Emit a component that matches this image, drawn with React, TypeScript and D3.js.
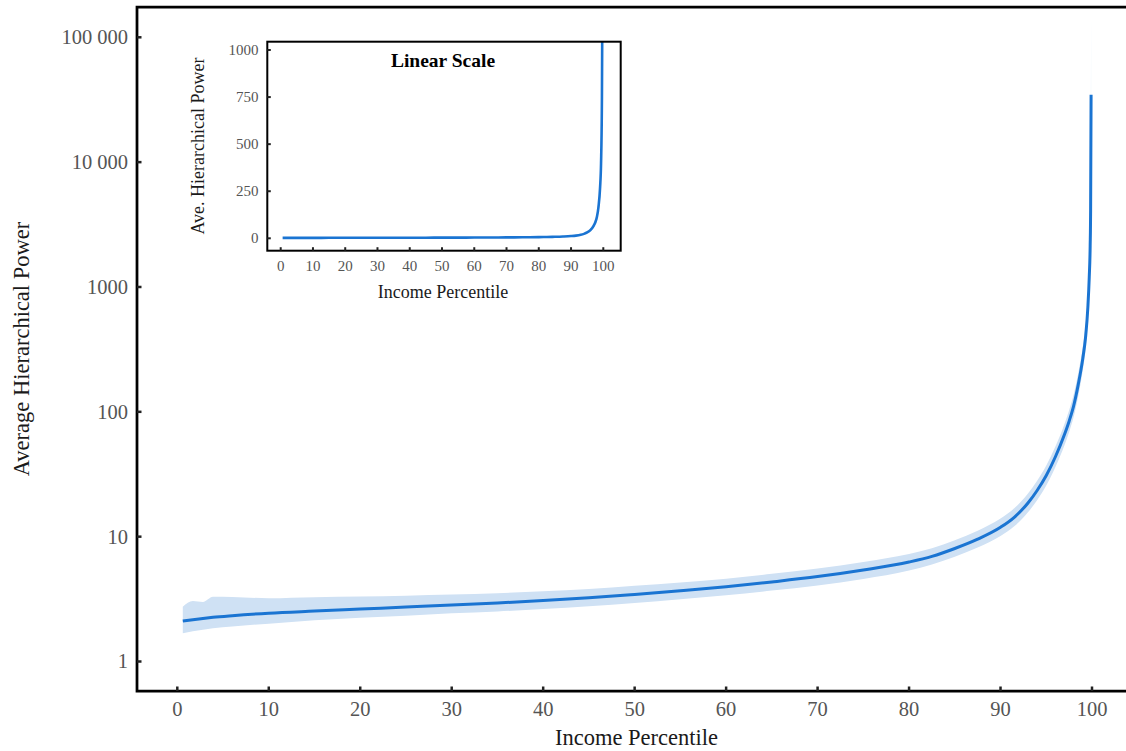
import React from "react";
import * as d3 from "d3";

const percentiles = [0.6, 1.7, 2.8, 3.9, 6, 10, 15, 20, 25, 30, 35, 40, 45, 50, 55, 60, 65, 70, 75, 80, 82.5, 85, 87.5, 90, 91.5, 93, 94, 95, 96, 97, 97.5, 98, 98.5, 99, 99.3, 99.55, 99.7, 99.8, 99.85, 99.9];
const meanPower = [2.109, 2.163, 2.213, 2.259, 2.328, 2.438, 2.535, 2.63, 2.729, 2.831, 2.944, 3.076, 3.236, 3.443, 3.681, 3.963, 4.335, 4.786, 5.408, 6.266, 6.95, 8.04, 9.55, 11.89, 14.29, 18.62, 23.44, 30.9, 43.65, 66.07, 84.14, 112.2, 166, 269.2, 398.1, 691.8, 1202, 2138, 4169, 34674];
const upperPower = [2.75, 3.05, 3.0, 3.3, 3.29, 3.21, 3.27, 3.31, 3.37, 3.44, 3.52, 3.65, 3.8, 4.04, 4.3, 4.61, 5.04, 5.56, 6.27, 7.26, 8.07, 9.35, 11.17, 13.96, 16.87, 22.13, 28.05, 37.15, 52.72, 80.35, 102.8, 138, 205, 335, 501, 881, 1549, 2818, 5754, 158000];
const lowerPower = [1.68, 1.75, 1.8, 1.85, 1.91, 2.01, 2.14, 2.24, 2.33, 2.43, 2.52, 2.63, 2.77, 2.94, 3.15, 3.39, 3.7, 4.07, 4.58, 5.35, 5.98, 6.9, 8.17, 10.12, 12.11, 15.67, 19.59, 25.7, 36.14, 54.33, 68.87, 91.2, 134, 216, 316, 543, 933, 1622, 3020, 7943];

const mainXTicks = [0, 10, 20, 30, 40, 50, 60, 70, 80, 90, 100];
const mainYTicks = [1, 10, 100, 1000, 10000, 100000];
const mainYTickLabels = ["1", "10", "100", "1000", "10 000", "100 000"];
const insetXTicks = [0, 10, 20, 30, 40, 50, 60, 70, 80, 90, 100];
const insetYTicks = [0, 250, 500, 750, 1000];

const W = 1126;
const H = 751;
const LINE = "#1a74d2";
const BAND = "#cfe1f4";
const TICKTXT = "#555";
const TITLE = "#1a1a1a";
const FONT = "'Liberation Serif', 'Times New Roman', serif";

type Row = { p: number; m: number; lo: number; hi: number };
const rows: Row[] = percentiles.map((p, i) => ({ p, m: meanPower[i], lo: lowerPower[i], hi: upperPower[i] }));

export default function App() {
  const left = 137, top = 7, bottom = 691, right = 1130;
  const x = d3.scaleLinear().domain([0, 100]).range([177.3, 1092]);
  const y = d3.scaleLog().domain([1, 100000]).range([661.5, 37.3]);

  const line = d3.line<Row>().x(d => x(d.p)).y(d => y(d.m)).curve(d3.curveMonotoneX);
  const area = d3.area<Row>().x(d => x(d.p)).y0(d => y(d.lo)).y1(d => y(d.hi)).curve(d3.curveMonotoneX);

  const iL = 267.3, iR = 620.7, iT = 41.7, iB = 250.7;
  const ix = d3.scaleLinear().domain([0, 100]).range([280.7, 603.3]);
  const iy = d3.scaleLinear().domain([0, 1000]).range([238.3, 50]);
  const iline = d3.line<Row>().x(d => ix(d.p)).y(d => iy(d.m)).curve(d3.curveMonotoneX);
  const iarea = d3.area<Row>().x(d => ix(d.p)).y0(d => iy(d.lo)).y1(d => iy(d.hi)).curve(d3.curveMonotoneX);

  return (
    <div style={{ position: "fixed", left: 0, top: 0, width: W, height: H, background: "#fff" }}>
      <svg width={W} height={H} style={{ display: "block", fontFamily: FONT }}>
        <defs>
          <clipPath id="mainClip">
            <rect x={left} y={top} width={right - left} height={bottom - top} />
          </clipPath>
          <clipPath id="insetClip">
            <rect x={iL} y={iT} width={iR - iL} height={iB - iT} />
          </clipPath>
        </defs>

        <g clipPath="url(#mainClip)">
          <path d={area(rows) || ""} fill={BAND} stroke="none" />
          <path d={line(rows) || ""} fill="none" stroke={LINE} strokeWidth={3} />
        </g>

        <path d={`M${right},${top}H${left}V${bottom}H${right}`} fill="none" stroke="#000" strokeWidth={2.75} />

        {mainXTicks.map(t => (
          <g key={"mx" + t}>
            <line x1={x(t)} x2={x(t)} y1={bottom} y2={bottom - 4.5} stroke="#222" strokeWidth={2.5} />
            <text x={x(t)} y={716} textAnchor="middle" fontSize={20.5} fill={TICKTXT}>{t}</text>
          </g>
        ))}
        {mainYTicks.map((t, i) => (
          <g key={"my" + t}>
            <line x1={left} x2={left + 4.5} y1={y(t)} y2={y(t)} stroke="#222" strokeWidth={2.5} />
            <text x={128} y={y(t)} dy="0.34em" textAnchor="end" fontSize={20.5} fill={TICKTXT}>{mainYTickLabels[i]}</text>
          </g>
        ))}
        <text x={(left + 1126) / 2 + 5} y={745} textAnchor="middle" fontSize={22.5} fill={TITLE}>Income Percentile</text>
        <text transform={`translate(29,349) rotate(-90)`} textAnchor="middle" fontSize={22.5} fill={TITLE}>Average Hierarchical Power</text>

        <rect x={iL} y={iT} width={iR - iL} height={iB - iT} fill="#fff" />
        <g clipPath="url(#insetClip)">
          <path d={iarea(rows) || ""} fill={BAND} stroke="none" />
          <path d={iline(rows) || ""} fill="none" stroke={LINE} strokeWidth={2.6} />
        </g>
        <rect x={iL} y={iT} width={iR - iL} height={iB - iT} fill="none" stroke="#000" strokeWidth={2} />
        {insetXTicks.map(t => (
          <g key={"ix" + t}>
            <line x1={ix(t)} x2={ix(t)} y1={iB} y2={iB - 3.5} stroke="#222" strokeWidth={2} />
            <text x={ix(t)} y={270.5} textAnchor="middle" fontSize={15} fill={TICKTXT}>{t}</text>
          </g>
        ))}
        {insetYTicks.map(t => (
          <g key={"iy" + t}>
            <line x1={iL} x2={iL + 3.5} y1={iy(t)} y2={iy(t)} stroke="#222" strokeWidth={2} />
            <text x={258.5} y={iy(t)} dy="0.34em" textAnchor="end" fontSize={15} fill={TICKTXT}>{t}</text>
          </g>
        ))}
        <text x={443} y={297.5} textAnchor="middle" fontSize={18} fill={TITLE}>Income Percentile</text>
        <text transform={`translate(204,146) rotate(-90)`} textAnchor="middle" fontSize={18} fill={TITLE}>Ave. Hierarchical Power</text>
        <text x={443} y={67} textAnchor="middle" fontSize={19.5} fontWeight="bold" fill="#000">Linear Scale</text>
      </svg>
    </div>
  );
}
